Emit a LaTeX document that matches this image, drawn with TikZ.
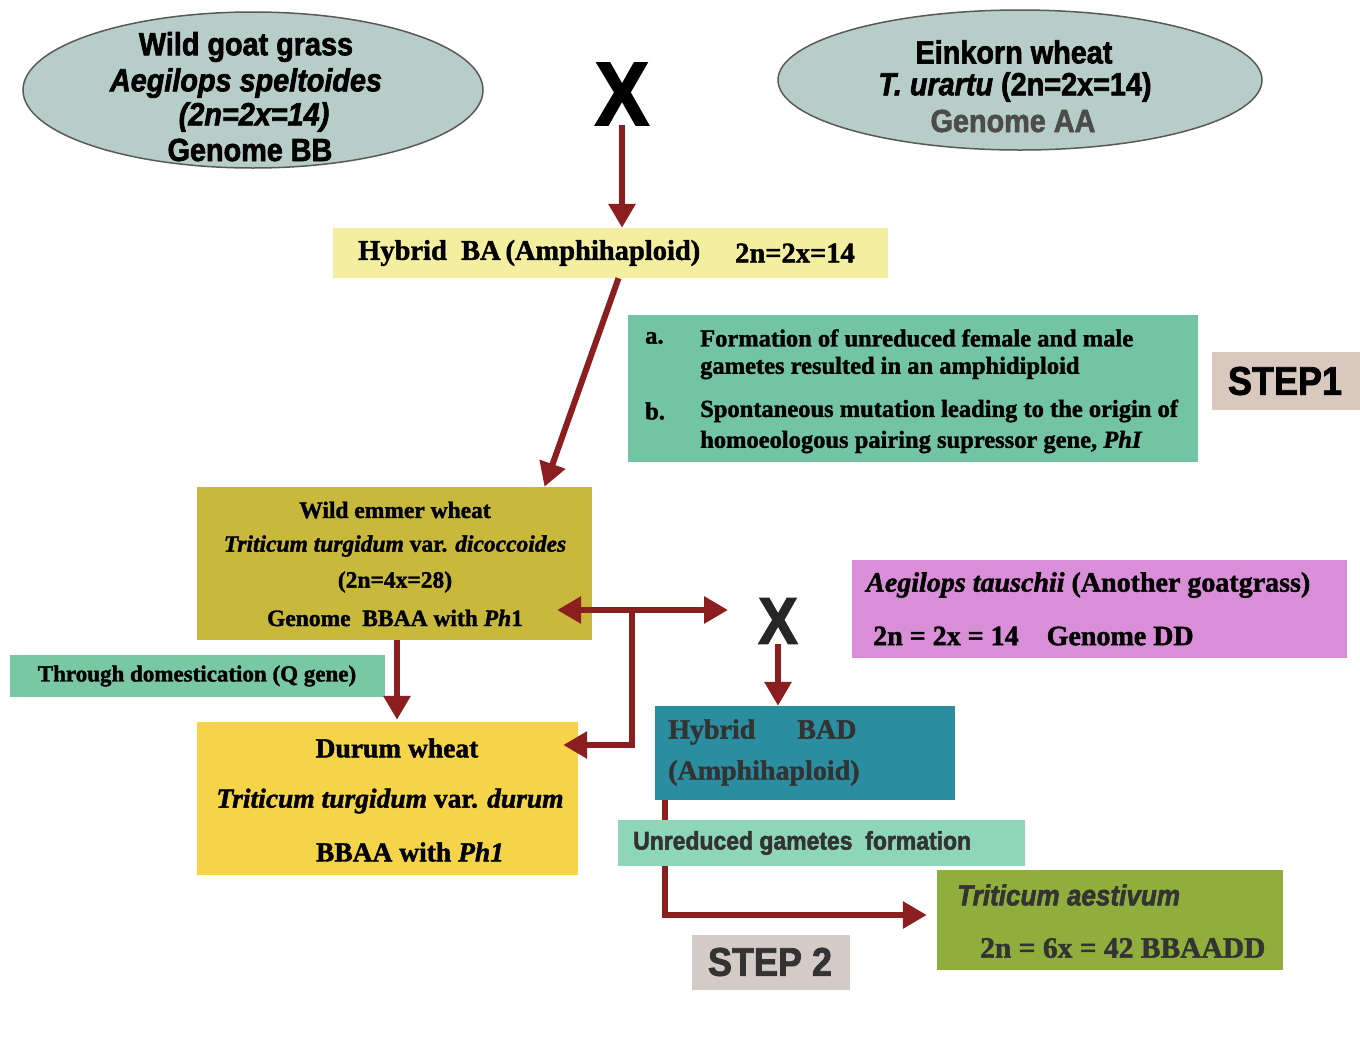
\documentclass[tikz,border=0pt]{standalone}
\usepackage{fontspec}
\setmainfont{Liberation Serif}[BoldFeatures={FakeBold=1.5},BoldItalicFeatures={FakeBold=1.5}]
\newfontfamily\nsans{Liberation Sans}[FakeStretch=0.9,BoldFeatures={FakeBold=2},BoldItalicFeatures={FakeBold=2}]
\usetikzlibrary{arrows.meta,shapes.geometric}
\definecolor{arrowred}{HTML}{8B1E1E}
\definecolor{ellfill}{HTML}{B7CDC7}
\definecolor{hybafill}{HTML}{F4EFA0}
\definecolor{stepsfill}{HTML}{72C4A2}
\definecolor{stepbg}{HTML}{D8C8BD}
\definecolor{emmerfill}{HTML}{C8B93C}
\definecolor{domfill}{HTML}{79C8A4}
\definecolor{durumfill}{HTML}{F6D44A}
\definecolor{tauschfill}{HTML}{D98ED8}
\definecolor{badfill}{HTML}{2B8EA0}
\definecolor{unredfill}{HTML}{8ED6B8}
\definecolor{aestfill}{HTML}{8FAE3C}
\definecolor{steptwobg}{HTML}{D5CBC6}
\definecolor{txtgray}{HTML}{333333}
\newcommand{\fs}[1]{\fontsize{#1}{#1}\selectfont}
\begin{document}
\begin{tikzpicture}[x=1pt,y=-1pt,
  boxnode/.style={rectangle,draw=none,inner sep=0pt},
  ellnode/.style={ellipse,draw=black!65,line width=1.5pt,fill=ellfill,inner sep=0pt},
  lbl/.style={inner sep=0pt,text=black},
  lbll/.style={inner sep=0pt,anchor=west,text=black},
  sanslbl/.style={lbl,font=\nsans\bfseries\fs{32}},
  serlbl/.style={lbl,font=\bfseries\fs{24}},
  serlbll/.style={lbll,font=\bfseries\fs{24}},
  arr/.style={draw=arrowred,line width=6pt,-{Triangle[length=24pt,width=26pt]}},
  dblarr/.style={draw=arrowred,line width=6pt,{Triangle[length=24pt,width=26pt]}-{Triangle[length=24pt,width=26pt]}},
]
\useasboundingbox (0,0) rectangle (1360,1058);
\fill[white] (0,0) rectangle (1360,1058);

% ellipses
\node[ellnode,minimum width=460pt,minimum height=156pt] (wild) at (253,90) {};
\node[sanslbl] (wild1) at (246,47) {Wild goat grass};
\node[sanslbl,font=\nsans\bfseries\itshape\fs{32}] (wild2) at (246,83) {Aegilops speltoides};
\node[sanslbl,font=\nsans\bfseries\itshape\fs{32}] (wild3) at (254,117) {(2n=2x=14)};
\node[sanslbl] (wild4) at (250,150) {Genome BB};

\node[ellnode,minimum width=484pt,minimum height=140pt] (einkorn) at (1020,80) {};
\node[sanslbl] (ein1) at (1014,52) {Einkorn wheat};
\node[sanslbl] (ein2) at (1015,87) {\textit{T. urartu} (2n=2x=14)};
\node[sanslbl,text=black!70] (ein3) at (1013,121) {Genome AA};

% cross symbols
\node[lbl,font=\nsans\bfseries\fs{90}] (x1) at (622,94) {X};
\node[lbl,font=\nsans\bfseries\fs{66},text=black!85] (x2) at (778,621) {X};

% boxes
\node[boxnode,fill=hybafill,minimum width=555pt,minimum height=50pt] (hyba) at (610.5,253) {};
\node[serlbll,font=\bfseries\fs{28.5}] (hyba1) at (358,253) {Hybrid\enspace BA\,(Amphihaploid)};
\node[serlbll,font=\bfseries\fs{28.5}] (hyba2) at (735,253) {2n=2x=14};

\node[boxnode,fill=stepsfill,minimum width=570pt,minimum height=147pt] (steps) at (913,388.5) {};
\node[serlbll,font=\bfseries\fs{24.5}] (sa) at (645,338) {a.};
\node[serlbll,font=\bfseries\fs{24.5}] (sa1) at (700,338) {Formation of unreduced female and male};
\node[serlbll,font=\bfseries\fs{24.5}] (sa2) at (700,368) {gametes resulted in an amphidiploid};
\node[serlbll,font=\bfseries\fs{24.5}] (sb) at (645,411) {b.};
\node[serlbll,font=\bfseries\fs{24.5}] (sb1) at (700,411) {Spontaneous mutation leading to the origin of};
\node[serlbll,font=\bfseries\fs{24.5}] (sb2) at (700,442) {homoeologous pairing supressor gene, \textit{PhI}};

\node[boxnode,fill=stepbg,minimum width=148pt,minimum height=58pt] (step1) at (1286,381) {};
\node[sanslbl,font=\nsans\bfseries\fs{40}] (step1t) at (1285,381) {STEP1};

\node[boxnode,fill=emmerfill,minimum width=395pt,minimum height=153pt] (emmer) at (394.5,563.5) {};
\node[serlbl,font=\bfseries\fs{23.5}] (em1) at (395,510) {Wild emmer wheat};
\node[serlbl,font=\bfseries\fs{23.5}] (em2) at (395,546) {\textit{Triticum turgidum} var. \textit{dicoccoides}};
\node[serlbl,font=\bfseries\fs{23.5}] (em3) at (395,582) {(2n=4x=28)};
\node[serlbl,font=\bfseries\fs{23.5}] (em4) at (395,618) {Genome\enspace BBAA with \textit{Ph}1};

\node[boxnode,fill=domfill,minimum width=375pt,minimum height=42pt] (dom) at (197.5,676) {};
\node[serlbl,font=\bfseries\fs{23}] (dom1) at (197,676) {Through domestication (Q gene)};

\node[boxnode,fill=durumfill,minimum width=381pt,minimum height=153pt] (durum) at (387.5,798.5) {};
\node[serlbl,font=\bfseries\fs{27.5}] (du1) at (397,748) {Durum wheat};
\node[serlbl,font=\bfseries\fs{27.5}] (du2) at (390,801) {\textit{Triticum turgidum} var. \textit{durum}};
\node[serlbl,font=\bfseries\fs{27.5}] (du3) at (410,852) {BBAA with \textit{Ph1}};

\node[boxnode,fill=tauschfill,minimum width=495pt,minimum height=98pt] (tausch) at (1099.5,609) {};
\node[serlbll,font=\bfseries\fs{28}] (ta1) at (866,585) {\textit{Aegilops tauschii} (Another goatgrass)};
\node[serlbll,font=\bfseries\fs{28}] (ta2) at (873,636) {2n = 2x = 14\quad Genome DD};

\node[boxnode,fill=badfill,minimum width=300pt,minimum height=94pt] (bad) at (805,753) {};
\node[serlbll,font=\bfseries\fs{28},text=txtgray] (bad1) at (668,732) {Hybrid\quad\enspace BAD};
\node[serlbll,font=\bfseries\fs{28},text=txtgray] (bad2) at (668,773) {(Amphihaploid)};

\node[boxnode,fill=aestfill,minimum width=346pt,minimum height=100pt] (aest) at (1110,920) {};
\node[lbll,font=\nsans\bfseries\itshape\fs{29},text=txtgray] (ae1) at (957,895) {Triticum aestivum};
\node[serlbll,font=\bfseries\fs{29.5},text=txtgray] (ae2) at (980,948) {2n = 6x = 42 BBAADD};

\node[boxnode,fill=steptwobg,minimum width=158pt,minimum height=55pt] (step2) at (771,962.5) {};
\node[sanslbl,font=\nsans\bfseries\fs{40},text=txtgray] (step2t) at (770,962) {STEP 2};

% connector behind the unreduced-gametes box
\draw[arr] ([xshift=-140pt]bad.south) |- ([shift={(-10pt,5pt)}]aest.west);

\node[boxnode,fill=unredfill,minimum width=407pt,minimum height=46pt] (unred) at (821.5,843) {};
\node[lbll,font=\nsans\bfseries\fs{25.5},text=txtgray] (un1) at (633,843) {Unreduced gametes\enspace formation};

% arrows
\coordinate (jn) at (632,610);
\coordinate (xl) at (728,610);
\draw[arr] (x1.south) -- (x1.south |- hyba.north);
\draw[arr] ([xshift=8pt]hyba.south) -- ([xshift=150pt]emmer.north);
\draw[arr] ([xshift=2.5pt]emmer.south) -- ([xshift=2.5pt,yshift=2pt]emmer.south |- durum.north);
\draw[dblarr] ([shift={(-35pt,-46.5pt)}]emmer.east) -- (xl);
\draw[arr] (jn) |- ([shift={(-15pt,53.5pt)}]durum.east);
\draw[arr] (x2.south) -- (x2.south |- bad.north);
\end{tikzpicture}
\end{document}
